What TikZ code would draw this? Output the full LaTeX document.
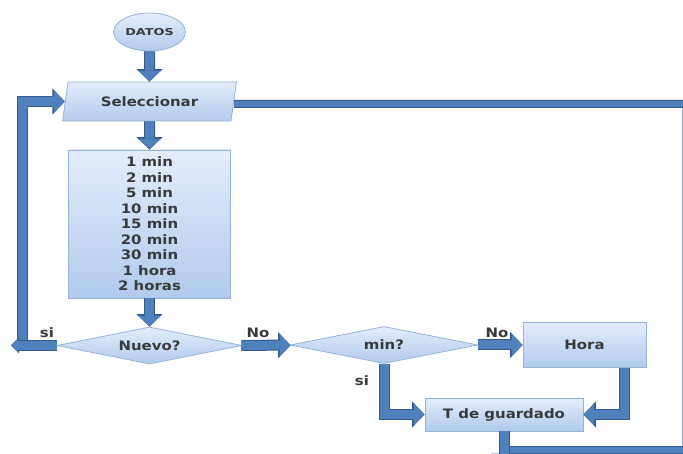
\documentclass[tikz,border=0pt]{standalone}
\usepackage{fontspec}
\setmainfont{DejaVu Sans}[FakeStretch=1.15]
\newfontfamily\widefont{DejaVu Sans}[FakeStretch=1.35]
\usetikzlibrary{shapes.geometric,arrows.meta}
\definecolor{abfill}{HTML}{4F81BD}
\definecolor{abedge}{HTML}{34598A}
\definecolor{nodetop}{HTML}{E4EDFA}
\definecolor{nodebot}{HTML}{B0CAEE}
\definecolor{nodeedge}{HTML}{95B3D7}
\definecolor{txt}{HTML}{3A3A3A}
\definecolor{thinline}{HTML}{9AAAD0}

\begin{document}
\begin{tikzpicture}[x=1pt,y=-1pt,
  box/.style={draw=nodeedge, line width=0.8pt, top color=nodetop, bottom color=nodebot,
    text=txt, font=\bfseries\fontsize{13}{15.5}\selectfont, inner sep=0pt, align=center},
  flow/.style={draw=abfill, line width=9pt, line join=miter,
    -{Triangle[width=23pt,length=11pt,line width=0pt]},
    preaction={draw=abedge, line width=11pt,
      -{Triangle[width=26pt,length=12.5pt,line width=0pt]}}},
  smallflow/.style={draw=abfill, line width=9pt, line join=miter,
    -{Triangle[width=14pt,length=7pt,line width=0pt]},
    preaction={draw=abedge, line width=11pt,
      -{Triangle[width=16pt,length=8pt,line width=0pt]}}},
  bar/.style={draw=abfill, line width=6pt, preaction={draw=abedge, line width=8pt}},
  thinl/.style={draw=thinline, line width=1pt},
  lbl/.style={text=txt, font=\bfseries\fontsize{13}{15}\selectfont, inner sep=0pt},
]
\useasboundingbox (0,0) rectangle (683,454);
\clip (0,0) rectangle (683,454);

% process steps
\node[box, ellipse, minimum width=72pt, minimum height=38pt,
      font=\widefont\bfseries\fontsize{9.5}{11}\selectfont] (datos) at (149.5,32) {DATOS};
\node[box, trapezium, trapezium left angle=72, trapezium right angle=108,
      trapezium stretches=true, minimum width=174pt, minimum height=39pt]
      (sel) at (149.5,101.5) {Seleccionar};
\node[box, minimum width=162pt, minimum height=148pt] (list) at (149.5,224)
      {1 min\\2 min\\5 min\\10 min\\15 min\\20 min\\30 min\\1 hora\\2 horas};
\node[box, diamond, aspect=5, minimum width=185pt, minimum height=37pt]
      (nuevo) at (149.5,345.5) {Nuevo?};
\node[box, diamond, aspect=5, minimum width=188pt, minimum height=37pt]
      (minq) at (384,345) {min?};
\node[box, minimum width=123pt, minimum height=45pt] (hora) at (584.5,345) {Hora};
\node[box, minimum width=158pt, minimum height=33pt] (tg) at (504,414.5) {T de guardado};

% branch labels
\node[lbl] (si1) at (47,333) {si};
\node[lbl] (no1) at (258,333) {No};
\node[lbl] (no2) at (497,333) {No};
\node[lbl] (si2) at (362,381) {si};

% free ends of the connectors
\coordinate (ltip) at (11,345.5);
\coordinate (lbot) at (22,351);
\coordinate (rtop) at (690,104);
\coordinate (rthin) at (682,108);
\coordinate (rbot) at (682,449);
\coordinate (bend) at (690,450);
\coordinate (tgout) at (504,466);

% connectors
\draw[bar] ([yshift=-2.5pt]sel.east) -- (rtop);
\draw[thinl] (rthin) -- (rbot);
\draw[bar] (tg.south |- bend) -- (bend);
\draw[flow] (datos) -- (sel);
\draw[flow] (sel) -- (list);
\draw[flow] (list) -- (nuevo);
\draw[flow] (lbot) |- (sel);
\draw[smallflow] (nuevo) -- (ltip);
\draw[flow] (nuevo) -- (minq);
\draw[flow] (minq) -- (hora);
\draw[flow] (minq) |- (tg);
\draw[flow] ([xshift=40pt]hora.south) |- (tg);
\draw[flow] (tg) -- (tgout);
\end{tikzpicture}
\end{document}
